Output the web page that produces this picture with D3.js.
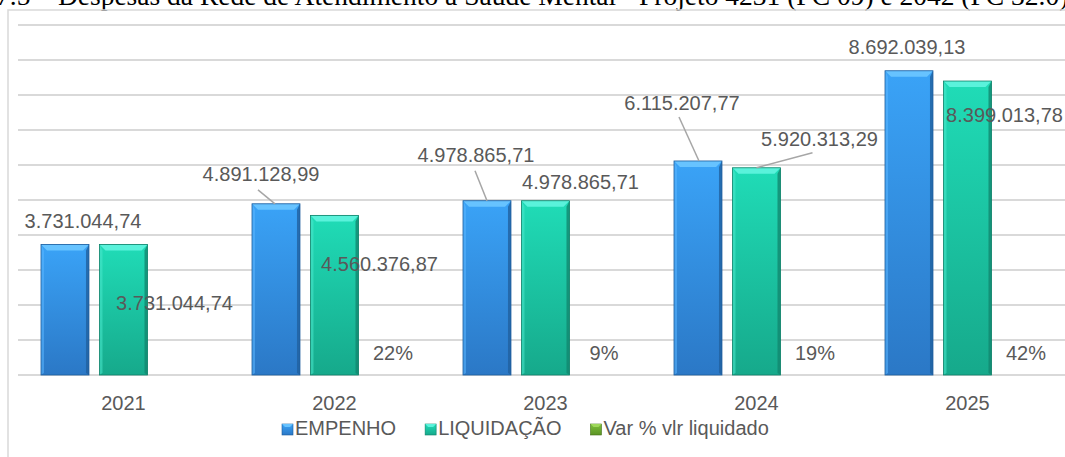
<!DOCTYPE html>
<html>
<head>
<meta charset="utf-8">
<script src="https://cdn.jsdelivr.net/npm/d3@7"></script>
<style>
  html, body { margin: 0; padding: 0; background: #fff; overflow: hidden; }
  svg text { font-family: "Liberation Sans", Arial, sans-serif; }
</style>
</head>
<body>
<svg width="1065" height="457"></svg>
<script>
// data
var years = ["2021", "2022", "2023", "2024", "2025"];
var seriesNames = ["EMPENHO", "LIQUIDAÇÃO", "Var % vlr liquidado"];
var empenho = [3731044.74, 4891128.99, 4978865.71, 6115207.77, 8692039.13];
var liquidacao = [3731044.74, 4560376.87, 4978865.71, 5920313.29, 8399013.78];
var varLiquidado = [null, 0.22, 0.09, 0.19, 0.42];
var yTicks = [0, 1e6, 2e6, 3e6, 4e6, 5e6, 6e6, 7e6, 8e6, 9e6, 1e7];

// label placement (offset from bar top centre, as Excel has them dragged)
var labelOffsets = [
  [[18, -16], [-15, -23], [-11, -39], [-16, -51], [-2, -17]],
  [[51, 66], [45, 56], [35, -12], [63, -22], [37, 41]],
  [[0, -15], [0, -15], [0, -15], [0, -15], [0, -15]]
];
// leader lines: [x1, y1, x2] relative to bar top centre
var leaders = [
  [null, [-18, -14, -1], [-12, -30, 0], [-19, -44, 1], null],
  [null, null, null, [56, -15, 0], null],
  [null, null, null, null, null]
];

var fmtBR = function (v) {
  var s = d3.format(",.2f")(v);
  return s.replace(/,/g, "#").replace(/\./g, ",").replace(/#/g, ".");
};
var fmtPct = d3.format(".0%");

var svg = d3.select("svg");
var defs = svg.append("defs");

var palettes = [
  { top: "#67c3ff", a: "#3aa3f7", b: "#2b78c6", edge: "#1d5c9c", light: "#5bb6ff", dark: "#21609f" },
  { top: "#5af2db", a: "#20dcb7", b: "#16a98b", edge: "#0f8069", light: "#4be8cc", dark: "#11876f" },
  { top: "#9ed85a", a: "#7cbf3a", b: "#5c9425", edge: "#44701a", light: "#96d052", dark: "#4d7f1d" }
];
palettes.forEach(function (p, i) {
  var g = defs.append("linearGradient").attr("id", "grad" + i)
    .attr("x1", 0).attr("y1", 0).attr("x2", 0).attr("y2", 1);
  g.append("stop").attr("offset", "0%").attr("stop-color", p.a);
  g.append("stop").attr("offset", "100%").attr("stop-color", p.b);
});

// title (cut off at top in the original picture)
svg.append("text")
  .attr("x", -4).attr("y", 5)
  .style("font-family", "'Liberation Serif', 'Times New Roman', serif")
  .style("font-size", "27.5px")
  .attr("fill", "#000")
  .text("7.5 – Despesas da Rede de Atendimento à Saúde Mental - Projeto 4231 (FC 09) e 2042 (FC 32.0)");

// chart border
svg.append("rect")
  .attr("x", 8).attr("y", 10).attr("width", 1100).attr("height", 470)
  .attr("fill", "none").attr("stroke", "#d9d9d9").attr("stroke-width", 1.5);

var x = d3.scaleBand().domain(years).range([18, 1073]);
var xs = d3.scaleBand().domain([0, 1, 2]).range([23, x.bandwidth() - 23]).paddingInner(0.18);
var y = d3.scaleLinear().domain([0, 1e7]).range([375, 25]);

// grid
svg.append("g").selectAll("line").data(yTicks).enter().append("line")
  .attr("x1", 18).attr("x2", 1080)
  .attr("y1", function (d) { return y(d); })
  .attr("y2", function (d) { return y(d); })
  .attr("stroke", "#d9d9d9").attr("stroke-width", 2);

// x axis labels
var xAxis = d3.axisBottom(x).tickSize(0).tickPadding(0);
var gx = svg.append("g").attr("transform", "translate(0,375)").call(xAxis);
gx.select(".domain").remove();
gx.selectAll("text")
  .attr("y", 35).attr("dy", 0)
  .style("font-size", "20px").attr("fill", "#595959");

var allSeries = [empenho, liquidacao, varLiquidado];

function drawBar(g, bx, by, w, h, p, idx) {
  if (h < 0.5) return;
  var bev = Math.min(6, h / 2), side = 3;
  g.append("rect").attr("x", bx).attr("y", by).attr("width", w).attr("height", h)
    .attr("fill", "url(#grad" + idx + ")");
  g.append("polygon")
    .attr("points", [[bx, by + h], [bx + side, by + h - 2], [bx + side, by + bev], [bx, by]].join(" "))
    .attr("fill", p.light).attr("opacity", 0.55);
  g.append("polygon")
    .attr("points", [[bx + w, by], [bx + w - side, by + bev], [bx + w - side, by + h - 2], [bx + w, by + h]].join(" "))
    .attr("fill", p.dark).attr("opacity", 0.8);
  g.append("polygon")
    .attr("points", [[bx, by], [bx + w, by], [bx + w - bev, by + bev], [bx + bev, by + bev]].join(" "))
    .attr("fill", p.top);
  g.append("rect").attr("x", bx).attr("y", by).attr("width", w).attr("height", h)
    .attr("fill", "none").attr("stroke", p.edge).attr("stroke-width", 0.8);
}

var bars = svg.append("g");
allSeries.forEach(function (vals, s) {
  vals.forEach(function (v, i) {
    if (v == null) return;
    var bx = x(years[i]) + xs(s);
    var top = y(v);
    drawBar(bars, bx, top, xs.bandwidth(), y(0) - top, palettes[s], s);
  });
});

// leader lines and labels
var lab = svg.append("g");
allSeries.forEach(function (vals, s) {
  vals.forEach(function (v, i) {
    if (v == null) return;
    var cx = x(years[i]) + xs(s) + xs.bandwidth() / 2;
    var top = y(v);
    var L = leaders[s][i];
    if (L) {
      lab.append("line")
        .attr("x1", cx + L[0]).attr("y1", top + L[1])
        .attr("x2", cx + L[2]).attr("y2", top)
        .attr("stroke", "#a6a6a6").attr("stroke-width", 1.5);
    }
    var o = labelOffsets[s][i];
    lab.append("text")
      .attr("x", cx + o[0]).attr("y", top + o[1])
      .attr("text-anchor", "middle")
      .style("font-size", "20px").attr("fill", "#595959")
      .text(s === 2 ? fmtPct(v) : fmtBR(v));
  });
});

// legend
var leg = svg.append("g");
var lx = 282;
seriesNames.forEach(function (name, s) {
  var p = palettes[s];
  var sq = leg.append("g");
  sq.append("rect").attr("x", lx).attr("y", 424).attr("width", 11).attr("height", 11)
    .attr("fill", "url(#grad" + s + ")").attr("stroke", p.edge).attr("stroke-width", 0.6);
  sq.append("polygon")
    .attr("points", [[lx, 424], [lx + 11, 424], [lx + 8, 427], [lx + 3, 427]].join(" "))
    .attr("fill", p.top);
  var t = leg.append("text").attr("x", lx + 13).attr("y", 435)
    .style("font-size", "20px").attr("fill", "#595959").text(name);
  lx = lx + 13 + t.node().getComputedTextLength() + 29;
});
</script>
</body>
</html>
